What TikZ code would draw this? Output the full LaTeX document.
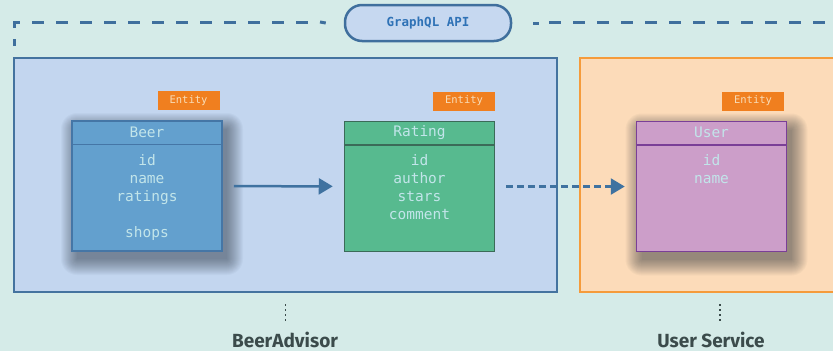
\documentclass[tikz,border=0pt]{standalone}
\usepackage{fontspec}
\setmainfont{Fira Sans}
\setmonofont{DejaVu Sans Mono}
\usetikzlibrary{arrows.meta}

\definecolor{bgteal}{HTML}{D5EBE8}
\definecolor{apifill}{HTML}{C6D8F0}
\definecolor{apiborder}{HTML}{3F6F9D}
\definecolor{apitext}{HTML}{2F72B6}
\definecolor{advfill}{HTML}{C3D6EF}
\definecolor{advborder}{HTML}{44739F}
\definecolor{usrfill}{HTML}{FCDBB9}
\definecolor{usrborder}{HTML}{F59B3B}
\definecolor{tagorange}{HTML}{F07F1F}
\definecolor{tagtext}{HTML}{F8DDB8}
\definecolor{beerfill}{HTML}{63A0CE}
\definecolor{beerborder}{HTML}{4576A6}
\definecolor{ratingfill}{HTML}{57BA8F}
\definecolor{ratingborder}{HTML}{3B6B58}
\definecolor{userfill}{HTML}{CC9EC9}
\definecolor{userborder}{HTML}{7A3F97}
\definecolor{fieldtext}{HTML}{C2E5EA}
\definecolor{labelgray}{HTML}{3B4B4B}
\definecolor{arrowblue}{HTML}{3F72A0}
\definecolor{shadowgray}{HTML}{1A2530}

\begin{document}
\begin{tikzpicture}[x=1pt,y=-1pt,
  entitybox/.style={draw, line width=1.5pt, minimum width=150pt, minimum height=130pt, inner sep=0pt},
  shadowpiece/.style={fill=shadowgray, opacity=0.03},
  tag/.style={fill=tagorange, text=tagtext, font=\ttfamily\fontsize{10.5}{10.5}\selectfont, minimum width=62pt, minimum height=19pt, inner sep=0pt, anchor=south east},
  title/.style={text=fieldtext, font=\ttfamily\fontsize{14.5}{18}\selectfont, inner sep=0pt},
  fields/.style={text=fieldtext, font=\ttfamily\fontsize{14.5}{18}\selectfont, align=center, anchor=north, inner sep=0pt},
  service/.style={line width=2.5pt, inner sep=0pt, minimum height=234pt},
  servicelabel/.style={text=labelgray, font=\bfseries\fontsize{19}{19}\selectfont},
  dots/.style={labelgray, line width=1.8pt, dash pattern=on 2pt off 3pt},
  apidash/.style={apiborder, line width=3pt},
  flow/.style={draw=arrowblue, line width=2.5pt, -{Triangle[length=14pt,width=16pt]}, shorten <=11pt, shorten >=11pt}
]
  \newcommand\headh{24pt}
  \fill[bgteal] (0,0) rectangle (833,351);
  \useasboundingbox (0,0) rectangle (833,351);

  % services
  \node[service, draw=advborder, fill=advfill, minimum width=543pt] (advisor) at (285.5,175) {};
  \node[service, draw=usrborder, fill=usrfill, minimum width=262pt] (usersvc) at (711,175) {};
  \node[servicelabel] (advisorlabel) at (285,340) {BeerAdvisor};
  \node[servicelabel] (usersvclabel) at (711,340) {User Service};
  \draw[dots] ([yshift=-11pt]advisor.south) -- ([yshift=-30pt]advisor.south);
  \draw[dots] ([xshift=9pt,yshift=-11pt]usersvc.south) -- ([xshift=9pt,yshift=-30pt]usersvc.south);

  % api gateway
  \node[draw=apiborder, line width=2.5pt, fill=apifill, rounded corners=17pt, minimum width=166pt, minimum height=36pt, text=apitext, font=\ttfamily\bfseries\fontsize{12.5}{12.5}\selectfont] (api) at (428,23) {GraphQL API};
  \coordinate (apicorner) at (14,22);
  \draw[apidash] (14,46) -- (14,39);
  \draw[apidash] (14,28) -- (apicorner) -- (20,22);
  \foreach \d in {32,56,...,296}
    \draw[apidash] (\d,22) -- ++(12,0);
  \draw[apidash] (320,22) -- ([xshift=-18pt]api.west);
  \draw[apidash] ([xshift=21pt]api.east) -- ++(6,0);
  \foreach \d in {549,573,...,837}
    \draw[apidash] (\d,22) -- ++(12,0);

  % entity positions and shadows
  \coordinate (beerpos) at (147,186);
  \coordinate (ratingpos) at (419.5,186.5);
  \coordinate (userpos) at (711.5,186.5);
  \foreach \s in {0,...,16}{
    \fill[shadowpiece, rounded corners=\s pt] ([shift={(-70pt-\s pt,-73pt-\s pt)}]beerpos) rectangle ([shift={(80pt+\s pt,57pt+\s pt)}]beerpos);
    \fill[shadowpiece, rounded corners=\s pt] ([shift={(-70pt-\s pt,-73pt-\s pt)}]userpos) rectangle ([shift={(80pt+\s pt,57pt+\s pt)}]userpos);
  }

  % entities
  \node[entitybox, draw=beerborder, fill=beerfill] (beer) at (beerpos) {};
  \draw[beerborder, line width=1.5pt] ([yshift=-\headh]beer.north west) -- ([yshift=-\headh]beer.north east);
  \node[title] (beertitle) at ([yshift=-12pt]beer.north) {Beer};
  \node[fields] (beerfields) at ([yshift=-34pt]beer.north) {id\\name\\ratings\\[18pt]shops};
  \node[tag] (beertag) at ([shift={(-3pt,10pt)}]beer.north east) {Entity};

  \node[entitybox, draw=ratingborder, fill=ratingfill] (rating) at (ratingpos) {};
  \draw[ratingborder, line width=1.5pt] ([yshift=-\headh]rating.north west) -- ([yshift=-\headh]rating.north east);
  \node[title] (ratingtitle) at ([yshift=-12pt]rating.north) {Rating};
  \node[fields] (ratingfields) at ([yshift=-34pt]rating.north) {id\\author\\stars\\comment};
  \node[tag] (ratingtag) at ([shift={(0pt,10pt)}]rating.north east) {Entity};

  \node[entitybox, draw=userborder, fill=userfill] (user) at (userpos) {};
  \draw[userborder, line width=1.5pt] ([yshift=-\headh]user.north west) -- ([yshift=-\headh]user.north east);
  \node[title] (usertitle) at ([yshift=-12pt]user.north) {User};
  \node[fields] (userfields) at ([yshift=-34pt]user.north) {id\\name};
  \node[tag] (usertag) at ([shift={(-3pt,10pt)}]user.north east) {Entity};

  % relations
  \draw[flow] (beer) -- (rating);
  \draw[flow, dash pattern=on 7pt off 4pt] (rating) -- (user);
\end{tikzpicture}
\end{document}
